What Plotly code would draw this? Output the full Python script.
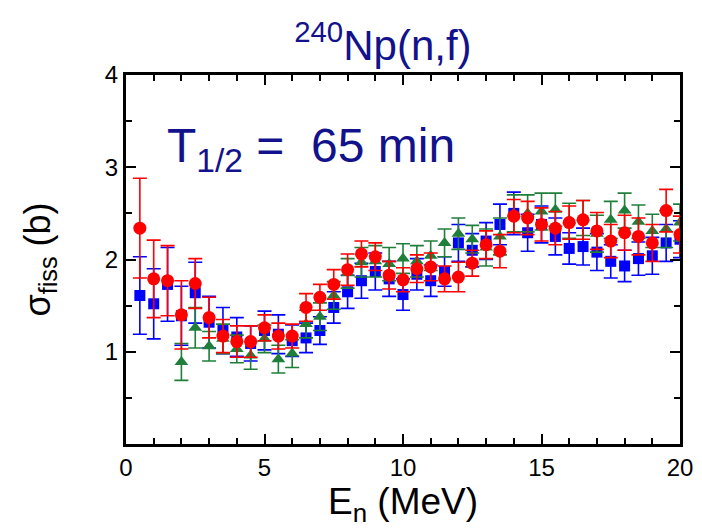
import plotly.graph_objects as go

# ---- data ----
x_red = [0.5, 1.0, 1.5, 2.0, 2.5, 3.0, 3.5, 4.0, 4.5, 5.0, 5.5, 6.0, 6.5, 7.0, 7.5, 8.0, 8.5, 9.0, 9.5, 10.0,
         10.5, 11.0, 11.5, 12.0, 12.5, 13.0, 13.5, 14.0, 14.5, 15.0, 15.5, 16.0, 16.5, 17.0, 17.5, 18.0, 18.5, 19.0, 19.5, 20.0]
y_red = [2.34, 1.79, 1.77, 1.40, 1.74, 1.37, 1.17, 1.11, 1.11, 1.26, 1.17, 1.17, 1.48, 1.59, 1.73, 1.89, 2.06, 2.03, 1.83, 1.78,
         1.90, 1.92, 1.79, 1.81, 1.96, 2.16, 2.09, 2.47, 2.45, 2.38, 2.34, 2.40, 2.43, 2.31, 2.20, 2.29, 2.25, 2.18, 2.53, 2.27]
e_red = [0.54, 0.42, 0.38, 0.37, 0.27, 0.22, 0.18, 0.17, 0.17, 0.14, 0.14, 0.13, 0.15, 0.14, 0.16, 0.17, 0.14, 0.15, 0.15, 0.13,
         0.15, 0.15, 0.14, 0.16, 0.14, 0.15, 0.18, 0.18, 0.18, 0.18, 0.18, 0.18, 0.21, 0.20, 0.18, 0.19, 0.20, 0.20, 0.23, 0.20]

x_blue = [0.5, 1.0, 1.5, 2.0, 2.5, 3.0, 3.5, 4.0, 4.5, 5.0, 5.5, 6.0, 6.5, 7.0, 7.5, 8.0, 8.5, 9.0, 9.5, 10.0,
          10.5, 11.0, 11.5, 12.0, 12.5, 13.0, 13.5, 14.0, 14.5, 15.0, 15.5, 16.0, 16.5, 17.0, 17.5, 18.0, 18.5, 19.0, 19.5, 20.0]
y_blue = [1.61, 1.52, 1.73, 1.39, 1.64, 1.32, 1.23, 1.16, 1.09, 1.23, 1.19, 1.12, 1.15, 1.23, 1.48, 1.65, 1.77, 1.87, 1.79, 1.62,
          1.84, 1.77, 1.87, 2.18, 2.10, 2.20, 2.38, 2.50, 2.29, 2.38, 2.25, 2.12, 2.14, 2.08, 1.98, 1.93, 2.01, 2.04, 2.18, 2.22]
e_blue = [0.42, 0.38, 0.40, 0.32, 0.33, 0.28, 0.25, 0.21, 0.19, 0.21, 0.21, 0.17, 0.16, 0.15, 0.17, 0.18, 0.19, 0.20, 0.19, 0.17,
          0.17, 0.17, 0.16, 0.20, 0.18, 0.20, 0.22, 0.23, 0.20, 0.20, 0.20, 0.17, 0.20, 0.20, 0.18, 0.17, 0.18, 0.20, 0.20, 0.20]

x_green = [2.0, 2.5, 3.0, 3.5, 4.0, 4.5, 5.0, 5.5, 6.0, 6.5, 7.0, 7.5, 8.0, 8.5, 9.0, 9.5, 10.0, 10.5, 11.0,
           11.5, 12.0, 12.5, 13.0, 13.5, 14.0, 14.5, 15.0, 15.5, 16.0, 16.5, 17.0, 17.5, 18.0, 18.5, 19.0, 19.5, 20.0]
y_green = [0.89, 1.26, 1.06, 1.14, 1.03, 0.96, 1.14, 0.92, 0.98, 1.30, 1.38, 1.61, 1.85, 1.97, 1.98, 1.95, 2.01, 1.98, 2.04,
           2.18, 2.28, 2.22, 2.13, 2.25, 2.50, 2.50, 2.52, 2.54, 2.42, 2.45, 2.28, 2.43, 2.53, 2.41, 2.31, 2.33, 2.40]
e_green = [0.20, 0.22, 0.16, 0.16, 0.15, 0.15, 0.15, 0.15, 0.15, 0.15, 0.15, 0.15, 0.16, 0.16, 0.17, 0.18, 0.16, 0.17, 0.16,
           0.15, 0.17, 0.15, 0.20, 0.20, 0.20, 0.20, 0.20, 0.18, 0.19, 0.19, 0.20, 0.20, 0.19, 0.18, 0.18, 0.20, 0.20]

x_ticks = [0, 5, 10, 15, 20]
y_ticks = [1, 2, 3, 4]

BLUE = "#0000ff"
GREEN = "#1f7f3a"
RED = "#ff0000"
NAVY = "#12128c"
FONT = "Liberation Sans, Arial, sans-serif"

fig = go.Figure()

def add_series(x, y, e, color, symbol, size):
    fig.add_trace(go.Scatter(
        x=x, y=y, mode="markers",
        marker=dict(color=color, symbol=symbol, size=size, line=dict(width=0)),
        error_y=dict(type="data", array=e, visible=True, color=color, thickness=1.6, width=7),
        showlegend=False,
    ))

add_series(x_blue, y_blue, e_blue, BLUE, "square", 11)
add_series(x_green, y_green, e_green, GREEN, "triangle-up", 12)
add_series(x_red, y_red, e_red, RED, "circle", 13)

axis_common = dict(
    showgrid=False, zeroline=False, showline=True, linecolor="black", linewidth=3,
    mirror="allticks", ticks="inside", tickcolor="black", tickwidth=2, ticklen=10,
    tickfont=dict(family=FONT, size=24, color="black"),
)

fig.update_xaxes(
    range=[0, 20], tickvals=x_ticks,
    minor=dict(dtick=1, ticks="inside", ticklen=6, tickwidth=2, tickcolor="black"),
    title=dict(text="E<sub>n</sub> (MeV)", font=dict(family=FONT, size=37, color="black"), standoff=0),
    **axis_common,
)
fig.update_yaxes(
    range=[0, 4], tickvals=y_ticks,
    minor=dict(dtick=0.5, ticks="inside", ticklen=6, tickwidth=2, tickcolor="black"),
    title=dict(text="σ<sub>fiss</sub> (b)", font=dict(family=FONT, size=36, color="black"), standoff=44),
    **axis_common,
)

fig.add_annotation(
    x=0.07, y=0.885, xref="paper", yref="paper", xanchor="left", yanchor="top",
    text="T<sub>1/2</sub> =&nbsp;&nbsp;65 min", showarrow=False,
    font=dict(family=FONT, size=48, color=NAVY),
)

fig.update_layout(
    width=702, height=531,
    margin=dict(l=118, r=30, t=67, b=95),
    paper_bgcolor="white", plot_bgcolor="white",
    title=dict(text="<sup>240</sup>Np(n,f)", x=0.534, xanchor="center", y=0.93, yanchor="middle",
               font=dict(family=FONT, size=42, color=NAVY)),
)

fig.write_html("out.html")
